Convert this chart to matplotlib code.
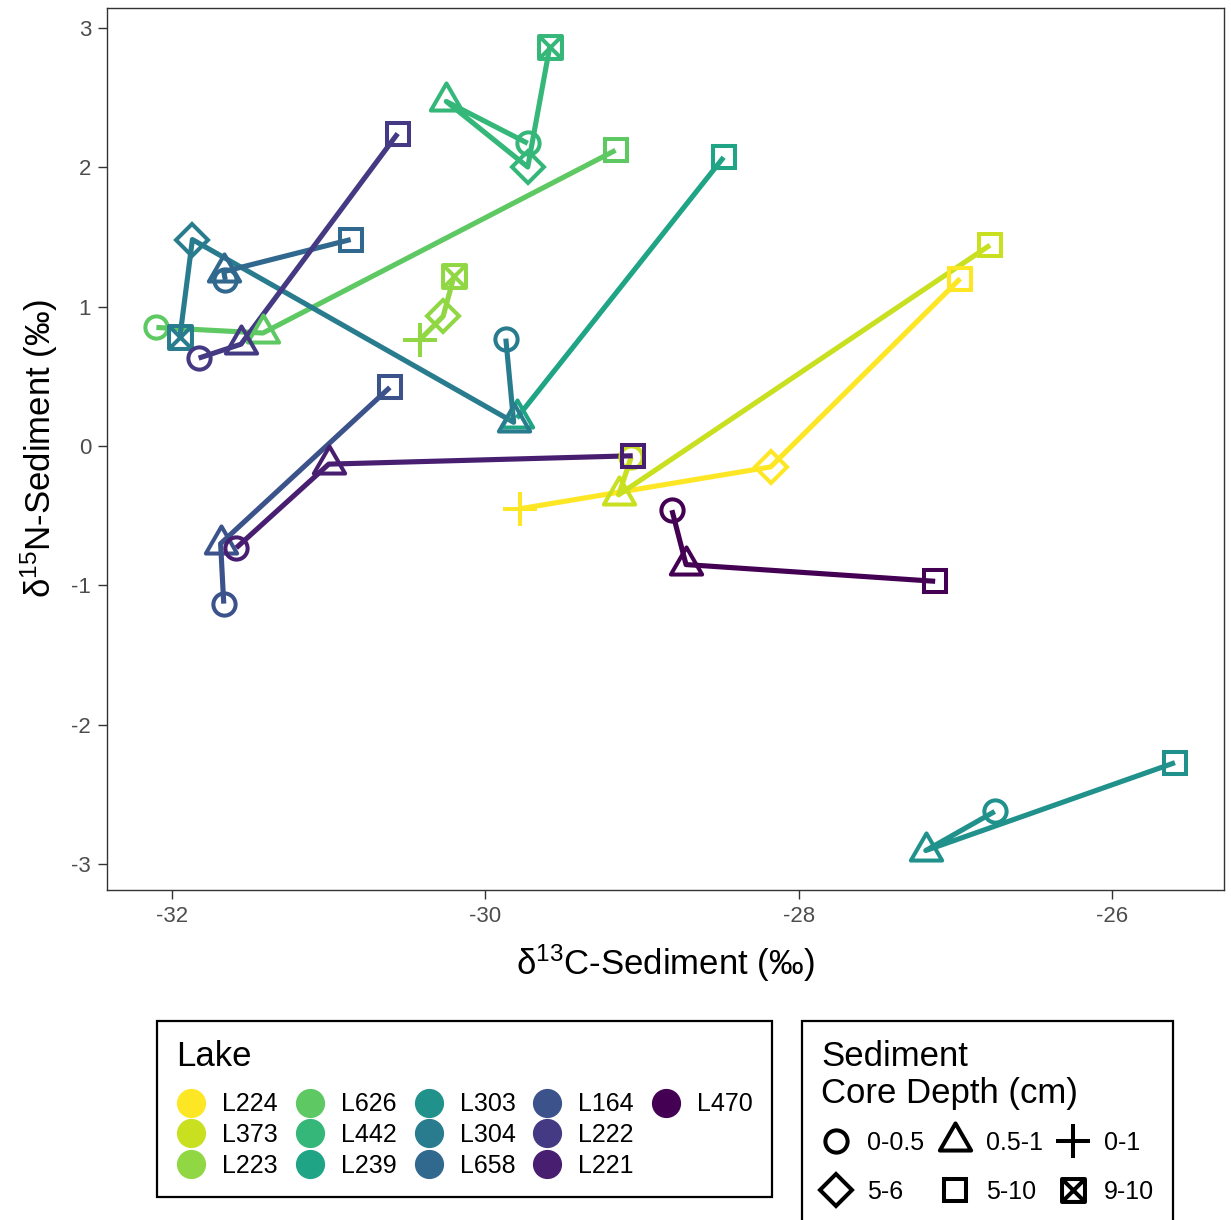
import matplotlib.pyplot as plt
import numpy as np
from matplotlib.lines import Line2D
from matplotlib.path import Path

plt.rcParams['font.family'] = ['Liberation Sans', 'DejaVu Sans']
plt.rcParams['mathtext.fontset'] = 'custom'
plt.rcParams['mathtext.rm'] = 'Liberation Sans'
plt.rcParams['mathtext.default'] = 'regular'
plt.rcParams['axes.unicode_minus'] = False

lakes = ['L224', 'L373', 'L223', 'L626', 'L442', 'L239', 'L303',
         'L304', 'L658', 'L164', 'L222', 'L221', 'L470']
depths = ['0-0.5', '0.5-1', '0-1', '5-6', '5-10', '9-10']

# one row per sediment sample, listed in core order within each lake
lake = ['L224', 'L224', 'L224',
        'L373', 'L373', 'L373',
        'L223', 'L223', 'L223',
        'L626', 'L626', 'L626',
        'L442', 'L442', 'L442', 'L442',
        'L239', 'L239',
        'L303', 'L303', 'L303',
        'L304', 'L304', 'L304', 'L304',
        'L658', 'L658', 'L658',
        'L164', 'L164', 'L164',
        'L222', 'L222', 'L222',
        'L221', 'L221', 'L221',
        'L470', 'L470', 'L470']
depth = ['0-1', '5-6', '5-10',
         '0-0.5', '0.5-1', '5-10',
         '0-1', '5-6', '9-10',
         '0-0.5', '0.5-1', '5-10',
         '0-0.5', '0.5-1', '5-6', '9-10',
         '0.5-1', '5-10',
         '0-0.5', '0.5-1', '5-10',
         '0-0.5', '0.5-1', '5-6', '9-10',
         '0-0.5', '0.5-1', '5-10',
         '0-0.5', '0.5-1', '5-10',
         '0-0.5', '0.5-1', '5-10',
         '0-0.5', '0.5-1', '5-10',
         '0-0.5', '0.5-1', '5-10']
d13c = [-29.78, -28.18, -26.97,
        -29.07, -29.15, -26.78,
        -30.42, -30.27, -30.20,
        -32.10, -31.42, -29.17,
        -29.73, -30.25, -29.73, -29.59,
        -29.80, -28.48,
        -26.75, -27.19, -25.60,
        -29.87, -29.82, -31.87, -31.95,
        -31.66, -31.67, -30.86,
        -31.67, -31.69, -30.61,
        -31.83, -31.56, -30.56,
        -31.59, -31.00, -29.06,
        -28.81, -28.72, -27.13]
d15n = [-0.45, -0.15, 1.20,
        -0.08, -0.35, 1.44,
        0.76, 0.93, 1.22,
        0.85, 0.81, 2.12,
        2.17, 2.47, 2.00, 2.86,
        0.20, 2.07,
        -2.62, -2.90, -2.27,
        0.77, 0.17, 1.48, 0.78,
        1.19, 1.25, 1.48,
        -1.13, -0.70, 0.42,
        0.63, 0.73, 2.24,
        -0.73, -0.13, -0.07,
        -0.46, -0.85, -0.97]

colors = dict(zip(lakes, plt.get_cmap('viridis')(np.linspace(1, 0, len(lakes)))))

# open marker shapes, one per core depth
tri = Path([(0, 1), (-0.866, -0.5), (0.866, -0.5), (0, 1)],
           [Path.MOVETO, Path.LINETO, Path.LINETO, Path.CLOSEPOLY])
sqx = Path([(-1, -1), (1, -1), (1, 1), (-1, 1), (-1, -1),
            (-1, -1), (1, 1), (-1, 1), (1, -1)],
           [Path.MOVETO, Path.LINETO, Path.LINETO, Path.LINETO, Path.CLOSEPOLY,
            Path.MOVETO, Path.LINETO, Path.MOVETO, Path.LINETO])
shapes = {'0-0.5': ('o', 16), '0.5-1': (tri, 26), '0-1': ('+', 25),
          '5-6': ('D', 16.5), '5-10': ('s', 16.5), '9-10': (sqx, 16.5)}

fig = plt.figure(figsize=(12.31, 12.20), dpi=100)
ax = fig.add_axes([107 / 1231, 1 - 890 / 1220, (1224 - 107) / 1231, (890 - 8) / 1220])

lake = np.array(lake)
d13c = np.array(d13c)
d15n = np.array(d15n)

for lk in lakes:
    idx = np.where(lake == lk)[0]
    ax.plot(d13c[idx], d15n[idx], color=colors[lk], lw=3.7,
            solid_joinstyle='round', solid_capstyle='butt', zorder=2)

for i in range(len(lake)):
    m, ms = shapes[depth[i]]
    ax.plot(d13c[i], d15n[i], ls='none', marker=m, ms=ms, mfc='none',
            mec=colors[lake[i]], mew=2.9, zorder=3)

ax.set_xlim(-32.415, -25.287)
ax.set_ylim(-3.183, 3.140)
ax.set_xticks([-32, -30, -28, -26])
ax.set_yticks([-3, -2, -1, 0, 1, 2, 3])
ax.tick_params(length=6.5, width=1.0, color='#333333', labelcolor='#4D4D4D',
               labelsize=16, pad=5)
for s in ax.spines.values():
    s.set_color('#333333')
    s.set_linewidth(1.0)

ax.set_xlabel('δ$^{13}$C-Sediment (‰)', fontsize=25, labelpad=11)
ax.set_ylabel('δ$^{15}$N-Sediment (‰)', fontsize=25, labelpad=8)

# lake colour legend
lake_handles = [Line2D([], [], ls='none', marker='o', ms=20, mfc=colors[lk], mec=colors[lk])
                for lk in lakes]
blank = Line2D([], [], ls='none')
leg1 = fig.legend(lake_handles + [blank, blank], lakes + ['', ''], ncol=5,
                  loc='upper left', bbox_to_anchor=(157 / 1231, 1 - 1021 / 1220),
                  borderaxespad=0, title='Lake', title_fontsize=25, fontsize=18,
                  alignment='left', frameon=True, fancybox=False, edgecolor='black',
                  framealpha=1, handlelength=1.2, handletextpad=0.64, columnspacing=0.68,
                  labelspacing=0.27, borderpad=0.76)
leg1.get_frame().set_linewidth(1.6)
leg1._legend_box.sep = 14

# core depth shape legend
order = ['0-0.5', '5-6', '0.5-1', '5-10', '0-1', '9-10']
depth_handles = [Line2D([], [], ls='none', marker=shapes[d][0], ms=shapes[d][1],
                        mfc='none', mec='black', mew=2.9) for d in order]
leg2 = fig.legend(depth_handles, order, ncol=3,
                  loc='upper left', bbox_to_anchor=(802 / 1231, 1 - 1021 / 1220),
                  borderaxespad=0, title='Sediment\nCore Depth (cm)', title_fontsize=25,
                  fontsize=18, alignment='left', frameon=True, fancybox=False,
                  edgecolor='black', framealpha=1, handlelength=1.2, handletextpad=0.64,
                  columnspacing=0.62, labelspacing=1.0, borderpad=0.76)
leg2.get_frame().set_linewidth(1.6)
leg2.get_title().set_linespacing(1.15)
leg2._legend_box.sep = 15

fig.savefig('out.png', dpi=100, facecolor='white')
